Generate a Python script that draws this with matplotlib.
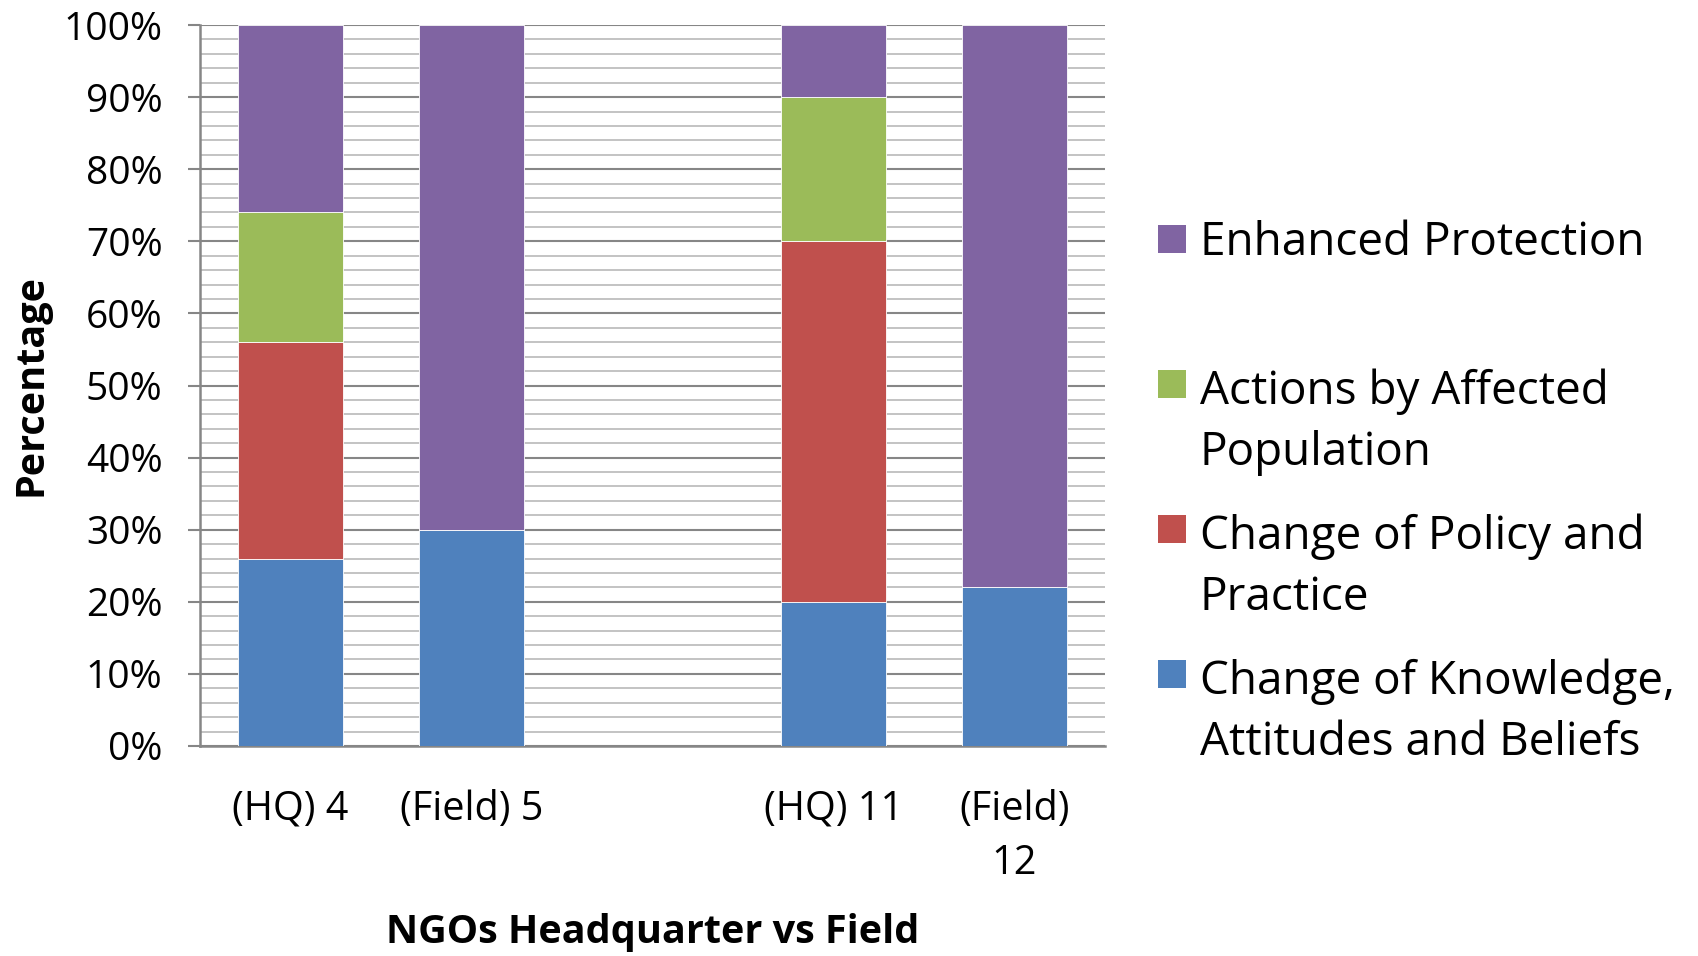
import numpy as np
import matplotlib.pyplot as plt
from matplotlib.patches import Rectangle

plt.rcParams['font.family'] = ['Open Sans', 'DejaVu Sans']

# 数据
categories = ['(HQ) 4', '(Field) 5', '', '(HQ) 11', '(Field)\n12']
knowledge = [26, 30, 0, 20, 22]
policy = [30, 0, 0, 50, 0]
actions = [18, 0, 0, 20, 0]
protection = [26, 70, 0, 10, 78]

series_names = ['Change of Knowledge,\nAttitudes and Beliefs', 'Change of Policy and\nPractice',
                'Actions by Affected\nPopulation', 'Enhanced Protection']
colors = ['#4F81BD', '#C0504D', '#9BBB59', '#8064A2']

fig = plt.figure(figsize=(16.98, 9.56), dpi=100)
ax = fig.add_axes([200 / 1698, 1 - 746 / 956, 905 / 1698, 721 / 956])

x = np.arange(len(categories))
bottom = np.zeros(len(categories))
for vals, c in zip([knowledge, policy, actions, protection], colors):
    vals = np.array(vals, dtype=float)
    ax.bar(x, vals, 0.575, bottom=bottom, color=c, edgecolor='white', linewidth=0.6, zorder=3)
    bottom += vals

ax.set_xlim(-0.5, len(categories) - 0.5)
ax.set_ylim(0, 100)
ax.set_yticks(np.arange(0, 101, 10))
ax.set_yticklabels(['%d%%' % v for v in range(0, 101, 10)], fontsize=28)
ax.set_yticks(np.arange(0, 101, 2), minor=True)
ax.grid(axis='y', which='major', color='#868686', linewidth=1.5, zorder=0)
ax.grid(axis='y', which='minor', color='#BEBEBE', linewidth=1.3, zorder=0)
ax.tick_params(axis='y', which='major', length=9, width=1.5, color='#868686', pad=18)
ax.tick_params(axis='y', which='minor', length=0)
ax.set_xticks(x)
ax.set_xticklabels(categories, fontsize=28.5, linespacing=1.45, va='top')
ax.tick_params(axis='x', length=0, pad=31)

for s in ['top', 'right']:
    ax.spines[s].set_visible(False)
for s in ['left', 'bottom']:
    ax.spines[s].set_color('#868686')
    ax.spines[s].set_linewidth(1.8)

ax.set_ylabel('Percentage', fontsize=28.5, fontweight='bold', labelpad=9)
fig.text(653 / 1698, 1 - 932 / 956, 'NGOs Headquarter vs Field', fontsize=28.5,
         fontweight='bold', ha='center', va='center')

# 图例 (手工绘制, 顺序反转)
leg_y = [239, 384, 529, 674]
line_h = 65
for yy, name, c in zip(leg_y, series_names[::-1], colors[::-1]):
    fig.patches.append(Rectangle((1158 / 1698, 1 - (yy + 14) / 956), 28 / 1698, 28 / 956,
                                 transform=fig.transFigure, facecolor=c, edgecolor='none'))
    n_extra = name.count('\n')
    fig.text(1200 / 1698, 1 - (yy + 16 + n_extra * line_h) / 956, name, fontsize=33,
             ha='left', va='baseline', linespacing=1.44)

fig.savefig('out.png', dpi=100)
